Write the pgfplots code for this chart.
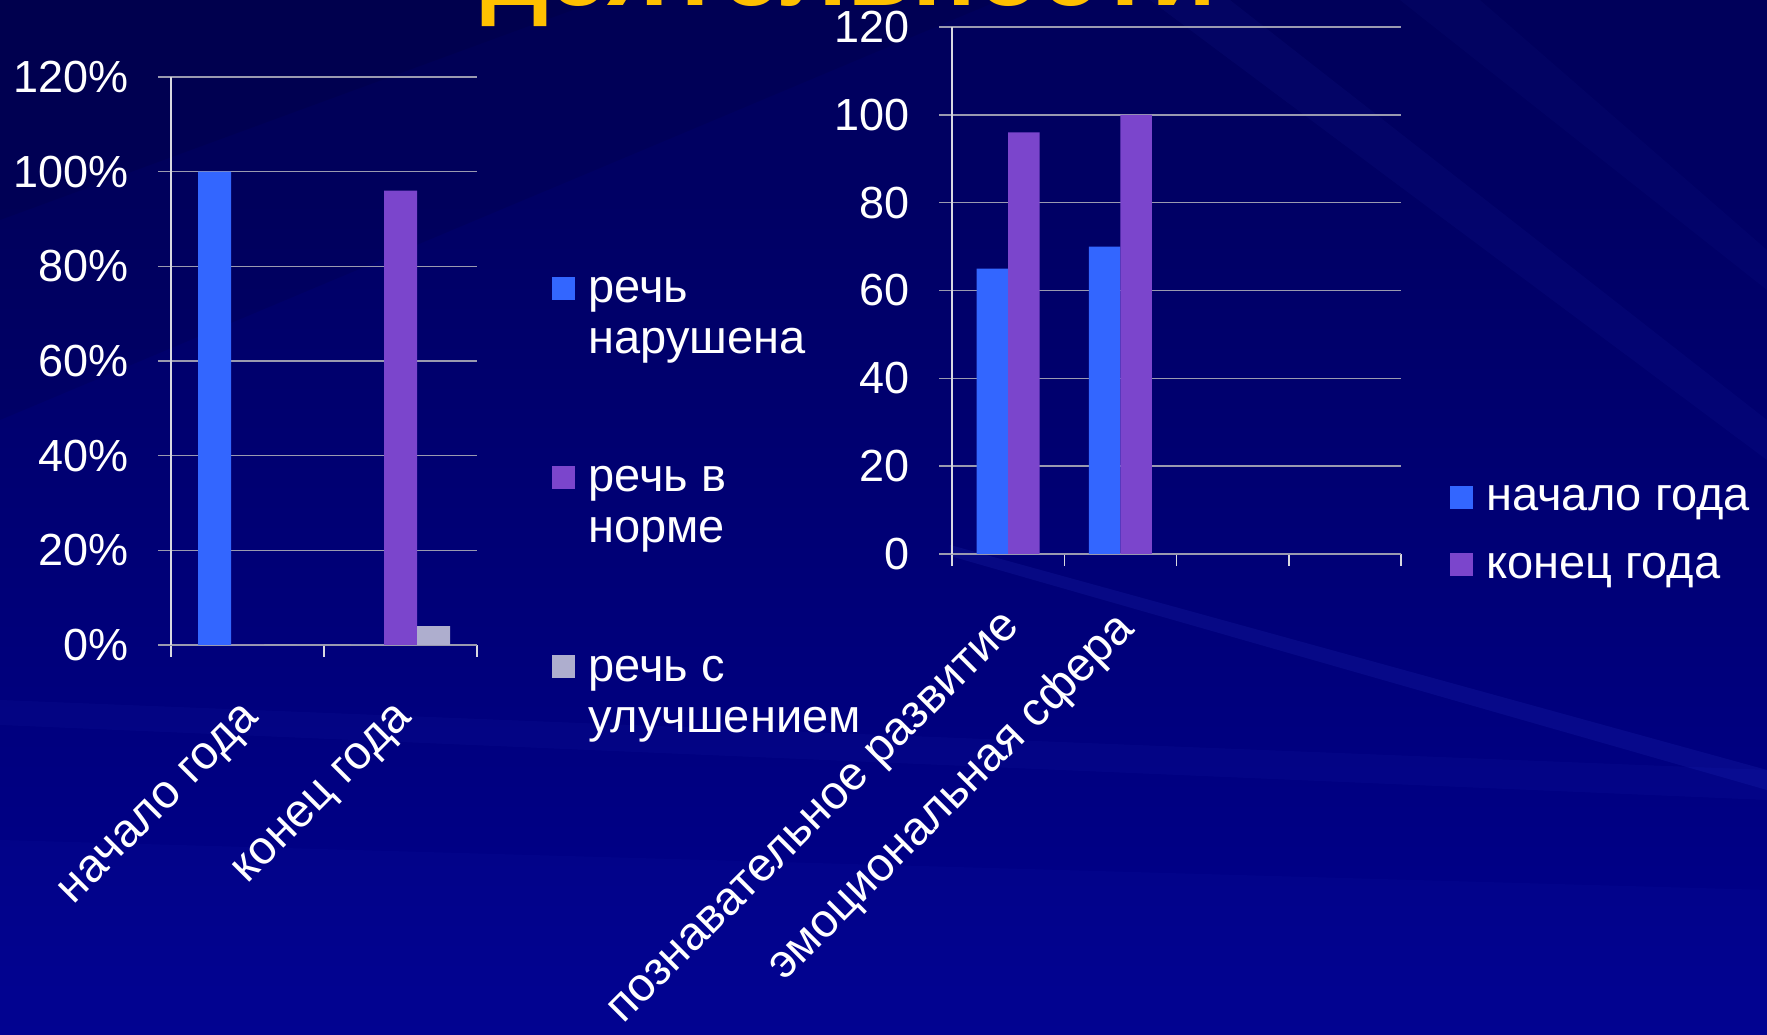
\documentclass[border=0pt]{standalone}
\usepackage{fontspec}
\setmainfont{Liberation Sans}
\usepackage{pgfplots}
\pgfplotsset{compat=1.18}

\definecolor{bgtop}{HTML}{00005A}
\definecolor{bgbot}{HTML}{00008E}
\definecolor{streak}{HTML}{3040D0}
\definecolor{barblue}{HTML}{3366FF}
\definecolor{barpurple}{HTML}{7B45CC}
\definecolor{bargray}{HTML}{AEAECE}
\definecolor{gridc}{HTML}{9A9AB0}
\definecolor{axc}{HTML}{D8D8E0}
\definecolor{titlegold}{HTML}{FFC000}

\pgfplotsset{
  % square legend mark; the argument lifts it (two-line entries need more)
  sq legend/.style={legend image code/.code={
    \fill[##1] (0bp,#1) rectangle (11.5bp,#1+11.5bp);}},
  slide axis/.style={
    scale only axis,
    ymin=0, ymax=120,
    axis x line*=bottom, axis y line*=left,
    x axis line style={-, draw=gridc, line width=0.75bp},
    y axis line style={-, draw=axc, line width=0.75bp},
    ytick={0,20,40,60,80,100,120},
    ymajorgrids,
    major grid style={draw=gridc, line width=0.75bp},
    tick align=outside,
    major tick length=6.5bp, minor tick length=6bp,
    ytick style={draw=gridc, line width=0.75bp},
    major x tick style={draw=none},
    minor x tick style={draw=axc, line width=0.75bp},
    tick label style={font=\fontsize{22.5bp}{27bp}\selectfont, text=white},
    yticklabel style={xshift=-11bp},
    xticklabel style={xshift=6bp, yshift=-25bp, anchor=east, rotate=45,
      font=\fontsize{23.5bp}{27bp}\selectfont},
    legend cell align=left,
    every axis plot/.append style={draw=none},
  },
}

\begin{document}
\begin{tikzpicture}
\useasboundingbox (0,0) rectangle (883.5bp,517.5bp);
\clip (0,0) rectangle (883.5bp,517.5bp);
\shade[top color=bgtop, bottom color=bgbot] (0,0) rectangle (883.5bp,517.5bp);
% background streaks, in image pixels from the top left corner
\begin{scope}[yshift=517.5bp, x=0.5bp, y=-0.5bp]
  \fill[streak, opacity=0.07] (0,700) -- (1767,770) -- (1767,800) -- (0,725) -- cycle;
  \fill[streak, opacity=0.15] (950,545) -- (1767,770) -- (1767,790) -- (950,556) -- cycle;
  \fill[streak, opacity=0.06] (0,840) -- (1767,890) -- (1767,1035) -- (0,1035) -- cycle;
  \fill[streak, opacity=0.07] (1150,0) -- (1230,0) -- (1767,420) -- (1767,460) -- cycle;
  \fill[streak, opacity=0.05] (1400,0) -- (1480,0) -- (1767,250) -- (1767,290) -- cycle;
  \fill[black, opacity=0.07] (0,0) -- (1000,0) -- (0,420) -- cycle;
  \fill[black, opacity=0.07] (0,0) -- (600,0) -- (0,220) -- cycle;
\end{scope}

\node[anchor=base west, inner sep=0pt, text=titlegold,
  font=\fontsize{53bp}{60bp}\selectfont\bfseries] at (240.5bp,514.5bp) {деятельности};

% left chart: state of speech
\begin{axis}[
  slide axis,
  at={(85.5bp,195bp)}, anchor=south west,
  width=153bp, height=284bp,
  xmin=0.5, xmax=2.5,
  xtick={1,2}, xticklabels={начало года,конец года},
  minor xtick={0.5,1.5,2.5},
  yticklabels={0\%,20\%,40\%,60\%,80\%,100\%,120\%},
  ybar=0pt, bar width=16.5bp,
  legend style={at={(axis description cs:1.245,0.655)}, anchor=north west,
    draw=none, fill=none, text=white, inner sep=0pt,
    font=\fontsize{23.5bp}{25.5bp}\selectfont,
    cells={align=left}, row sep=51bp,
    /tikz/every odd column/.append style={column sep=4.5bp}},
]
\addplot[fill=barblue, sq legend=8.5bp] coordinates {(1,100) (2,0)};
\addlegendentry{речь\\нарушена}
\addplot[fill=barpurple, sq legend=8.5bp] coordinates {(1,0) (2,96)};
\addlegendentry{речь в\\норме}
\addplot[fill=bargray, sq legend=8.5bp] coordinates {(1,0) (2,4)};
\addlegendentry{речь с\\улучшением}
\end{axis}

% right chart: development areas
\begin{axis}[
  slide axis,
  at={(476bp,240.5bp)}, anchor=south west,
  width=224.5bp, height=263.5bp,
  xmin=0.5, xmax=4.5,
  xtick={1,2}, xticklabels={познавательное развитие,эмоциональная сфера},
  minor xtick={0.5,1.5,2.5,3.5,4.5},
  yticklabels={0,20,40,60,80,100,120},
  ybar=0pt, bar width=15.75bp,
  legend style={at={(axis description cs:1.109,0.039)}, anchor=west,
    draw=none, fill=none, text=white, inner sep=0pt,
    font=\fontsize{23.5bp}{25.5bp}\selectfont, row sep=15.5bp,
    /tikz/every odd column/.append style={column sep=4.5bp}},
]
\addplot[fill=barblue, sq legend=-4.5bp] coordinates {(1,65) (2,70)};
\addlegendentry{начало года}
\addplot[fill=barpurple, sq legend=-4.5bp] coordinates {(1,96) (2,100)};
\addlegendentry{конец года}
\end{axis}
\end{tikzpicture}
\end{document}
